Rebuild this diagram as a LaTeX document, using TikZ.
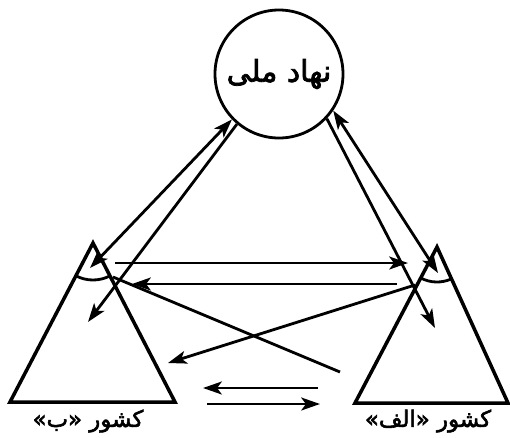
\documentclass[tikz,border=0pt]{standalone}
\usepackage{fontspec}
\usepackage{tikz}
\usetikzlibrary{arrows.meta}
\TeXXeTstate=1
\newfontfamily\farsi[Script=Arabic,FakeBold=2.5]{DejaVu Sans}
\tikzset{
 side/.style={line width=3pt,line join=miter},
 land/.style={font=\farsi\fontsize{19.5}{23}\selectfont},
}

\begin{document}
\begin{tikzpicture}[x=0.03cm,y=-0.03cm,line width=2.4pt,>={Stealth[length=16pt,width=11pt,inset=4pt]}]
\useasboundingbox (0,0) rectangle (510,437);
% the national institution
\node[draw,circle,minimum size=3.84cm,inner sep=0pt,font=\farsi\fontsize{25.5}{30}\selectfont] (nahad) at (279,74) {\beginR نهاد ملی\endR};
% country B, left
\draw[side] (93,243) coordinate (apexB) -- (10,402) -- (175,402) -- cycle;
\draw (apexB) ++(117.6:37) arc (117.6:62.7:37);
\node[land] (nameB) at (88,421) {\beginR کشور «ب»\endR};
% country A, right
\draw[side] (437,247) coordinate (apexA) -- (355,403) -- (508,403) -- cycle;
\draw (apexA) ++(117.7:35) arc (117.7:65.5:35);
\node[land] (nameA) at (428,421) {\beginR کشور «الف»\endR};
% ends of the links
\coordinate (inB) at (90,268); \coordinate (bodyB) at (88,322);
\coordinate (inA) at (438,273); \coordinate (bodyA) at (435,328);
\coordinate (b1) at (115,263); \coordinate (a1) at (408,263);
\coordinate (a2) at (397,284); \coordinate (b2) at (132,284);
\coordinate (a3) at (415,285); \coordinate (b3) at (168,363);
\coordinate (b4) at (113,277); \coordinate (a4) at (340,372);
\coordinate (a5) at (318,388); \coordinate (b5) at (203,388);
\coordinate (b6) at (207,404); \coordinate (a6) at (320,404);
% institution and the two countries
\draw[<->] (nahad.224) -- (inB);
\draw[->] (nahad.230) -- (bodyB);
\draw[<->] (nahad.326) -- (inA);
\draw[->] (nahad.317) -- (bodyA);
% between the countries
\draw[->] (b1) -- (a1);
\draw[->] (a2) -- (b2);
\draw[->] (a3) -- (b3);
\draw (b4) -- (a4);
\draw[->] (a5) -- (b5);
\draw[->] (b6) -- (a6);
\end{tikzpicture}
\end{document}
